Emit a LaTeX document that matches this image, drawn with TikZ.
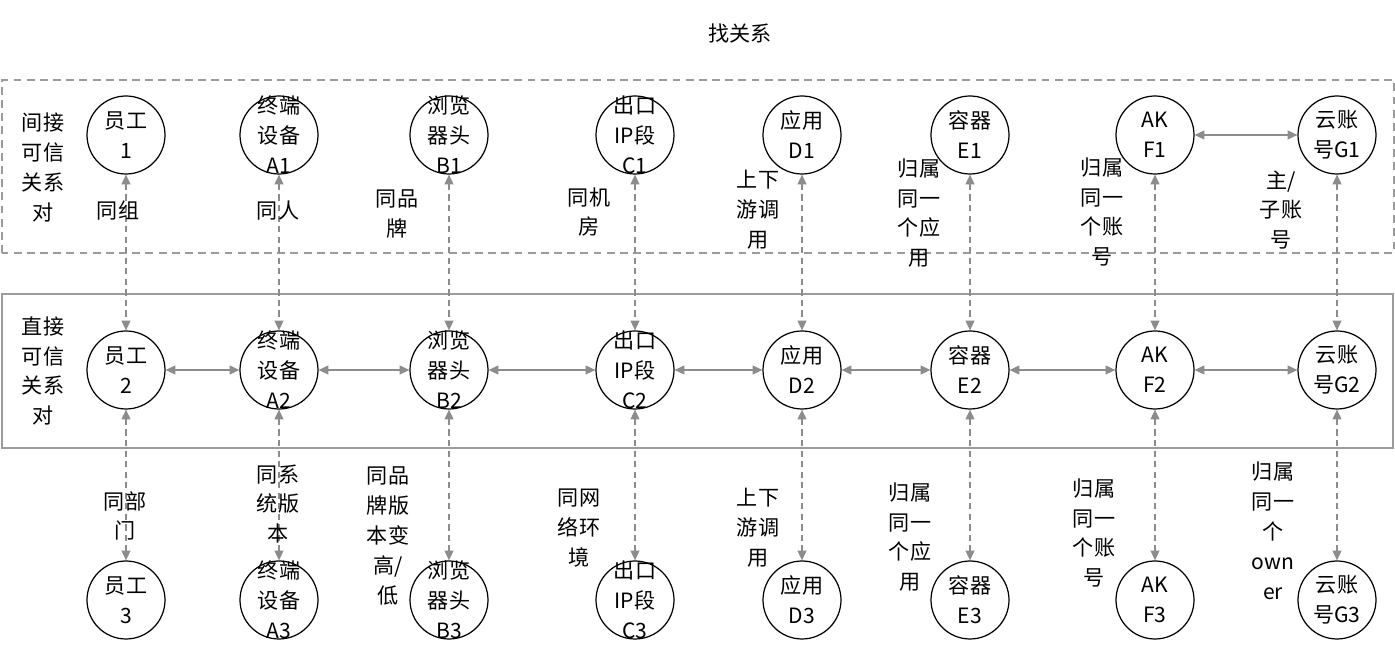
\documentclass[tikz,border=0pt]{standalone}
\usepackage{fontspec}
\newfontfamily\cjk{Noto Sans CJK SC}
\usetikzlibrary{arrows.meta}
\definecolor{linkgray}{HTML}{8C8C8C}
\definecolor{boxgray}{HTML}{9B9B9B}
\tikzset{
  txt/.style={font=\cjk\fontsize{12pt}{17pt}\selectfont, align=center, inner sep=0pt},
  ent/.style={circle, draw, line width=0.7pt, minimum size=1.56cm, inner sep=0pt, label={[txt]center:#1}},
  link/.style={linkgray, line width=0.8pt, >={Triangle[length=5.5pt,width=5pt]}, <->},
  hop/.style={link, dash pattern=on 3.5pt off 2.5pt},
}
\begin{document}
\begin{tikzpicture}
\useasboundingbox (0,0) rectangle (27.9,12.96);
%\draw[help lines] (0,0) grid (28,13);
\node[txt] (title) at (14.8,12.30) {找关系};
\draw[boxgray, line width=0.8pt, dash pattern=on 4.5pt off 3pt] (0.04,7.90) rectangle (27.88,11.36);
\draw[boxgray, line width=1pt] (0.04,4.00) rectangle (27.86,7.08);

\foreach \n/\x/\t in {yg/2.52/{员工\\}, zd/5.58/{终端\\设备\\A}, ll/8.98/{浏览\\器头\\B}, ck/12.70/{出口\\IP段\\C}, yy/16.04/{应用\\D}, rq/19.40/{容器\\E}, ak/23.10/{AK\\F}, yz/26.74/{云账\\号G}}
  \foreach \r/\y in {1/10.26, 2/5.56, 3/0.96}
    \node[ent={\t\r}] (\n\r) at (\x,\y) {};

\foreach \n in {yg, zd, ll, ck, yy, rq, ak, yz} {
  \draw[hop] (\n1) -- (\n2);
  \draw[hop] (\n2) -- (\n3);
}
\foreach \a/\b in {yg/zd, zd/ll, ll/ck, ck/yy, yy/rq, rq/ak, ak/yz}
  \draw[link] (\a2) -- (\b2);
\draw[link] (ak1) -- (yz1);

\foreach \n/\x/\y/\t in {jj/0.86/9.61/{间接\\可信\\关系\\对}, zj/0.86/5.54/{直接\\可信\\关系\\对},
  ygu/2.36/8.74/{同组}, zdu/5.56/8.74/{同人}, llu/7.94/8.68/{同品\\牌}, cku/11.78/8.72/{同机\\房},
  yyu/15.16/8.76/{上下\\游调\\用}, rqu/18.38/8.70/{归属\\同一\\个应\\用},
  aku/22.04/8.72/{归属\\同一\\个账\\号}, yzu/25.62/8.76/{主/\\子账\\号},
  ygd/2.50/2.64/{同部\\门}, zdd/5.56/2.88/{同系\\统版\\本}, lld/7.76/2.24/{同品\\牌版\\本变\\高/\\低},
  ckd/11.58/2.40/{同网\\络环\\境}, yyd/15.16/2.40/{上下\\游调\\用}, rqd/18.20/2.22/{归属\\同一\\个应\\用},
  akd/21.88/2.30/{归属\\同一\\个账\\号}, yzd/25.46/2.34/{归属\\同一\\个\\own\\er}}
  \node[txt] (\n) at (\x,\y) {\t};
\end{tikzpicture}
\end{document}
